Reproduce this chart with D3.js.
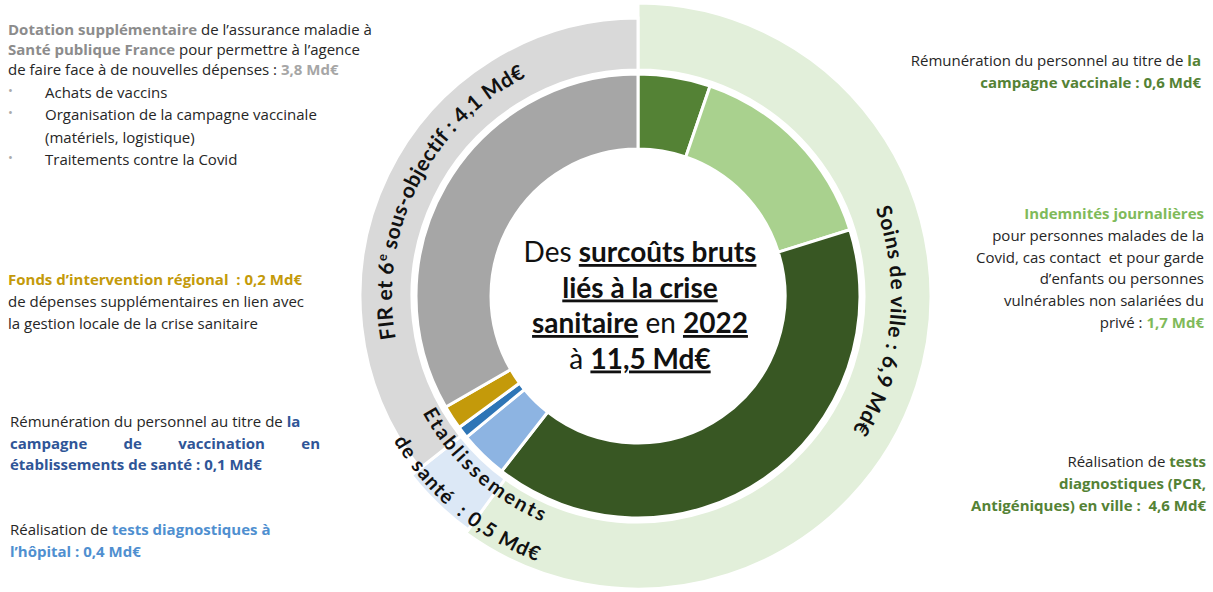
<!DOCTYPE html>
<html>
<head>
<meta charset="utf-8">
<script src="https://cdn.jsdelivr.net/npm/d3@7"></script>
<style>
  body { margin: 0; background: #fff; }
  svg { font-family: "Open Sans", Lato, sans-serif; }
  text { white-space: pre; }
</style>
</head>
<body>
<script>
// --- data (Md€) ---
var innerLabels = ["Rémunération campagne vaccinale", "Indemnités journalières", "Tests ville",
                   "Tests hôpital", "Vaccination établissements", "FIR", "Dotation Santé publique France"];
var innerValues = [0.6, 1.7, 4.6, 0.4, 0.1, 0.2, 3.8];
var outerLabels = ["Soins de ville", "Etablissements de santé", "FIR et 6e sous-objectif"];
var outerValues = [6.9, 0.5, 4.1];
var totalValue = 11.5;
var year = "2022";

// styles
var innerColors = ["#548235", "#a9d18e", "#385723", "#8db4e2", "#2e75b6", "#c49a0a", "#a6a6a6"];
var outerColors = ["#e2efda", "#dce8f6", "#d9d9d9"];
var outerRadius = [293, 289, 278];

var fmt = function(v) { return d3.format(".1f")(v).replace(".", ",") + " Md€"; };

var svgWidth = 1213, svgHeight = 592;
var cx = 638, cy = 296;

var svg = d3.select("body").append("svg")
  .attr("width", svgWidth)
  .attr("height", svgHeight);

var chartGroup = svg.append("g")
  .attr("transform", `translate(${cx}, ${cy})`);

// outer ring
var outerPie = d3.pie().sort(null)(outerValues);
var outerArc = d3.arc()
  .innerRadius(226)
  .outerRadius((d, i) => outerRadius[i]);

chartGroup.selectAll("path.outer")
  .data(outerPie)
  .enter()
  .append("path")
  .attr("class", "outer")
  .attr("d", (d, i) => outerArc(d, i))
  .attr("fill", (d, i) => outerColors[i])
  .attr("stroke", "#fff")
  .attr("stroke-width", 3);

// inner ring
var innerPie = d3.pie().sort(null)(innerValues);
var innerArc = d3.arc().innerRadius(147).outerRadius(222);

chartGroup.selectAll("path.inner")
  .data(innerPie)
  .enter()
  .append("path")
  .attr("class", "inner")
  .attr("d", innerArc)
  .attr("fill", (d, i) => innerColors[i])
  .attr("stroke", "#fff")
  .attr("stroke-width", 3);

// curved labels of the outer ring
function arcPath(r, a0, a1) {
  var p = d3.path();
  var toRad = a => (a - 90) * Math.PI / 180;
  p.arc(cx, cy, r, toRad(a0), toRad(a1), a1 < a0);
  return p.toString();
}

var defs = svg.append("defs");
function curvedText(id, r, a0, a1, size, spacing) {
  defs.append("path").attr("id", id).attr("d", arcPath(r, a0, a1));
  var t = svg.append("text")
    .attr("font-family", "Lato, sans-serif")
    .attr("font-size", size)
    .attr("font-weight", "bold")
    .attr("fill", "#111")
    .attr("letter-spacing", spacing || 0)
    .append("textPath")
    .attr("href", "#" + id)
    .attr("startOffset", "50%")
    .attr("text-anchor", "middle");
  return t;
}

// Soins de ville
curvedText("pSoins", 253, 36, 156, 21, 0.7)
  .text(outerLabels[0] + " : " + fmt(outerValues[0]));

// FIR et 6e sous-objectif
var fir = curvedText("pFir", 246, 236, 357, 21, 0.4);
var firParts = outerLabels[2].split("6e");
fir.append("tspan").text(firParts[0] + "6");
fir.append("tspan").attr("dy", -8).attr("font-size", 13).text("e");
fir.append("tspan").attr("dy", 8).text(firParts[1] + " : " + fmt(outerValues[2]));

// Etablissements de santé
var etab = outerLabels[1].split(" de ");
curvedText("pEtab1", 245, 282, 162, 20, 2.4).text(etab[0]);
curvedText("pEtab2", 284, 280, 160, 20, 1.2).text("de " + etab[1] + "  : " + fmt(outerValues[1]));

// centre title
var centreLines = [
  [["Des ", false], ["surcoûts bruts", true]],
  [["liés à la crise", true]],
  [["sanitaire", true], [" en ", false], [year, true]],
  [["à ", false], [fmt(totalValue), true]]
];
centreLines.forEach(function(line, li) {
  var t = svg.append("text")
    .attr("x", 640)
    .attr("y", 262 + li * 35.5)
    .attr("text-anchor", "middle")
    .attr("font-family", "Lato, sans-serif")
    .attr("font-size", 28)
    .attr("fill", "#111");
  line.forEach(function(seg) {
    t.append("tspan")
      .attr("font-weight", seg[1] ? "bold" : "normal")
      .attr("text-decoration", seg[1] ? "underline" : "none")
      .text(seg[0]);
  });
});

// annotations
var txt = "#262626";
var gGrey = "#8c8c8c", gGreen = "#548235", gLight = "#7fba5a", gGold = "#c49a0a",
    gBlue = "#2f5597", gLblue = "#4f8fd0";

function block(x, y0, lh, anchor, lines) {
  lines.forEach(function(line, li) {
    var t = svg.append("text")
      .attr("x", x)
      .attr("y", y0 + li * lh)
      .attr("text-anchor", anchor)
      .attr("font-size", 15)
      .attr("fill", txt);
    line.forEach(function(seg) {
      t.append("tspan")
        .attr("font-weight", seg[1] ? "bold" : "normal")
        .attr("fill", seg[1] || txt)
        .text(seg[0]);
    });
  });
}

// top-left
block(8, 35, 20, "start", [
  [["Dotation supplémentaire", gGrey], [" de l’assurance maladie à", null]],
  [["Santé publique France", gGrey], [" pour permettre à l’agence", null]],
  [["de faire face à de nouvelles dépenses : ", null], [fmt(innerValues[6]), "#a6a6a6"]]
]);
var bullets = ["Achats de vaccins", "Organisation de la campagne vaccinale", "(matériels, logistique)", "Traitements contre la Covid"];
var bulletY = [98, 120, 143, 165];
bullets.forEach(function(b, i) {
  if (i !== 2) {
    svg.append("text").attr("x", 8).attr("y", bulletY[i] - 3).attr("font-size", 13)
      .attr("fill", "#aaa").text("•");
  }
  svg.append("text").attr("x", 45).attr("y", bulletY[i]).attr("font-size", 15)
    .attr("fill", txt).text(b);
});

// FIR
block(8, 285, 22, "start", [
  [["Fonds d’intervention régional  : " + fmt(innerValues[5]), gGold]],
  [["de dépenses supplémentaires en lien avec", null]],
  [["la gestion locale de la crise sanitaire", null]]
]);

// vaccination établissements (justified paragraph)
block(10, 427, 21, "start", [
  [["Rémunération du personnel au titre de ", null], ["la", gBlue]]
]);
var justWords = ["campagne", "de", "vaccination", "en"];
var jx0 = 10, jx1 = 320;
var jNodes = justWords.map(w => svg.append("text").attr("y", 449).attr("font-size", 15)
  .attr("font-weight", "bold").attr("fill", gBlue).text(w));
var jWidths = jNodes.map(n => n.node().getComputedTextLength());
var jGap = (jx1 - jx0 - d3.sum(jWidths)) / (justWords.length - 1);
var jx = jx0;
jNodes.forEach(function(n, i) { n.attr("x", jx); jx += jWidths[i] + jGap; });
block(10, 470, 21, "start", [
  [["établissements de santé : " + fmt(innerValues[4]), gBlue]]
]);

// tests hôpital
block(10, 535, 22, "start", [
  [["Réalisation de ", null], ["tests diagnostiques à", gLblue]],
  [["l’hôpital : " + fmt(innerValues[3]), gLblue]]
]);

// right side
block(1201, 66, 22, "end", [
  [["Rémunération du personnel au titre de ", null], ["la", gGreen]],
  [["campagne vaccinale : " + fmt(innerValues[0]), gGreen]]
]);
block(1204, 219, 21.8, "end", [
  [["Indemnités journalières", gLight]],
  [["pour personnes malades de la", null]],
  [["Covid, cas contact  et pour garde", null]],
  [["d’enfants ou personnes", null]],
  [["vulnérables non salariées du", null]],
  [["privé : ", null], [fmt(innerValues[1]), gLight]]
]);
block(1206, 467, 22, "end", [
  [["Réalisation de ", null], ["tests", gGreen]],
  [["diagnostiques (PCR,", gGreen]],
  [["Antigéniques) en ville :  " + fmt(innerValues[2]), gGreen]]
]);
</script>
</body>
</html>
